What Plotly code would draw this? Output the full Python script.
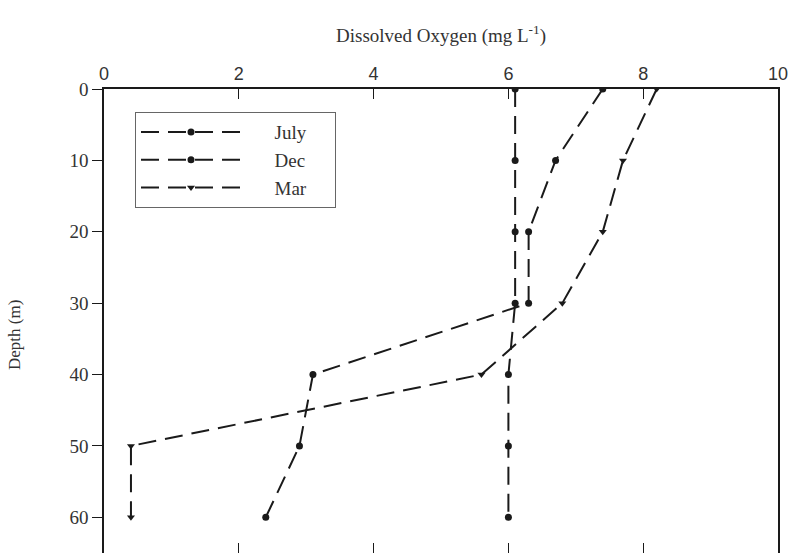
import plotly.graph_objects as go

depth = [0, 10, 20, 30, 40, 50, 60]
july = [6.1, 6.1, 6.1, 6.1, 6.0, 6.0, 6.0]
dec = [7.4, 6.7, 6.3, 6.3, 3.1, 2.9, 2.4]
mar = [8.2, 7.7, 7.4, 6.8, 5.6, 0.4, 0.4]

x_ticks = [0, 2, 4, 6, 8, 10]
y_ticks = [0, 10, 20, 30, 40, 50, 60]

SERIF = "Liberation Serif"
SANS = "Liberation Sans"
INK = "#1a1a1a"
TXT = "#333333"
PAD_L = "\u00a0" * 6
PAD_R = "\u00a0" * 5

fig = go.Figure()
series = [("July", july, "circle"), ("Dec", dec, "circle"), ("Mar", mar, "triangle-down")]
for name, vals, sym in series:
    fig.add_trace(go.Scatter(
        x=vals, y=depth, name=PAD_L + name + PAD_R, mode="lines+markers",
        line=dict(color=INK, width=2, dash="18px,9px"),
        marker=dict(color=INK, size=7, symbol=sym),
    ))

fig.update_layout(
    width=791, height=553,
    margin=dict(l=104, r=13, t=89, b=0),
    paper_bgcolor="white", plot_bgcolor="white",
    font=dict(family=SERIF, size=16, color=TXT),
    showlegend=True,
    legend=dict(
        x=0.046, y=0.95, xanchor="left", yanchor="top",
        bgcolor="white", bordercolor="#666", borderwidth=1,
        font=dict(family=SERIF, size=19, color=TXT),
        itemwidth=100, tracegroupgap=0,
    ),
    xaxis=dict(
        side="top", range=[0, 10], tickvals=x_ticks, automargin=False,
        ticks="inside", ticklen=10, tickwidth=1.2, tickcolor=INK,
        showline=True, linecolor=INK, linewidth=1.5, mirror="ticks",
        showgrid=False, zeroline=False,
        tickfont=dict(family=SANS, size=18, color=TXT),
        title=dict(text="Dissolved Oxygen (mg L<sup>-1</sup>)",
                   font=dict(family=SERIF, size=19, color=TXT), standoff=16),
    ),
    yaxis=dict(
        range=[65, 0], tickvals=y_ticks, automargin=False,
        ticks="outside", ticklen=10, tickwidth=1.2, tickcolor=INK,
        showline=True, linecolor=INK, linewidth=1.5, mirror=True,
        showgrid=False, zeroline=False,
        tickfont=dict(family=SERIF, size=19, color=TXT),
    ),
    annotations=[dict(
        text="Depth (m)", textangle=-90, xref="paper", yref="paper",
        x=-0.132, y=0.47, xanchor="center", yanchor="middle", showarrow=False,
        font=dict(family=SERIF, size=17, color=TXT),
    )],
)

fig.write_html(
    "out.html",
    config={"displayModeBar": False},
    post_script="document.body.style.margin='0';document.body.style.overflow='hidden';",
)
